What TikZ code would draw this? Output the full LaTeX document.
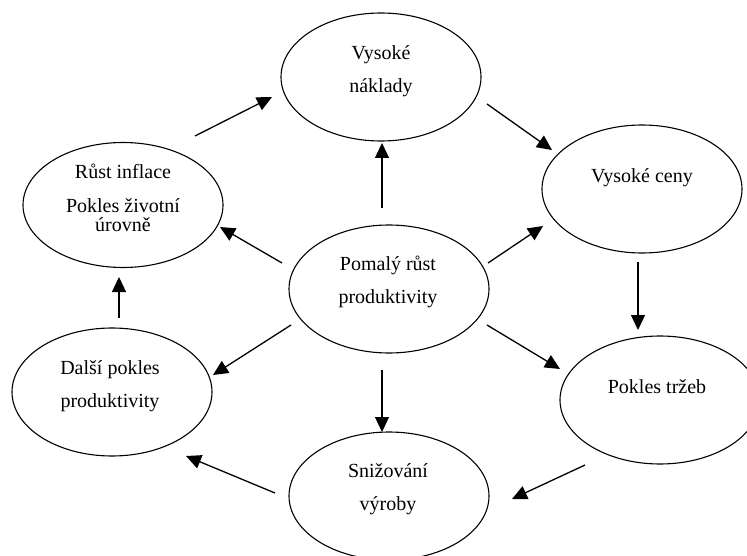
\documentclass[tikz,border=0pt]{standalone}
\usepackage{fontspec}
\setmainfont{Liberation Serif}
\usetikzlibrary{arrows.meta,shapes.geometric}
\begin{document}
\begin{tikzpicture}[x=1pt,y=-1pt,
  bubble/.style={draw, ellipse, line width=1.1pt, inner sep=0pt,
    minimum width=200pt, minimum height=128pt},
  txt/.style={align=center, inner sep=0pt, anchor=base,
    font=\fontsize{20}{33}\selectfont},
  arr/.style={line width=1.3pt, -{Triangle[length=15pt,width=14pt]}}]
\useasboundingbox[fill=white] (0,0) rectangle (747,556);

% ellipses
\node[bubble] (top) at (381,77) {};
\node[bubble] (vc)  at (642,189) {};
\node[bubble] (pt)  at (660,400) {};
\node[bubble] (sv)  at (389,496) {};
\node[bubble] (dp)  at (112,392) {};
\node[bubble, minimum height=125pt] (ri) at (123,205) {};
\node[bubble] (c)   at (389,289) {};

% labels (placed by the baseline of their last line)
\node[txt] (topt) at (381,93)  {Vysoké\\náklady};
\node[txt] (vct)  at (642,183) {Vysoké ceny};
\node[txt] (ptt)  at (657,393) {Pokles tržeb};
\node[txt] (svt)  at (388,510) {Snižování\\výroby};
\node[txt] (dpt)  at (110,407) {Další pokles\\produktivity};
\node[txt] (rit)  at (123,232) {Růst inflace\\[1pt]Pokles životní\\[-14pt]úrovně};
\node[txt] (ct)   at (388,303) {Pomalý růst\\produktivity};

% arrows from the centre
\draw[arr] ([shift={(-7,-81)}]c.center) -- ([shift={(1,66)}]top.center);
\draw[arr] ([shift={(99,-26)}]c.center) -- ([shift={(-99,37)}]vc.center);
\draw[arr] ([shift={(98,36)}]c.center) -- ([shift={(-100,-31)}]pt.center);
\draw[arr] ([shift={(-7,81)}]c.center) -- ([shift={(-7,-64)}]sv.center);
\draw[arr] ([shift={(-98,36)}]c.center) -- ([shift={(101,-17)}]dp.center);
\draw[arr] ([shift={(-107,-26)}]c.center) -- ([shift={(97,22)}]ri.center);

% outer cycle
\draw[arr] ([shift={(72,-69)}]ri.center) -- ([shift={(-109,20)}]top.center);
\draw[arr] ([shift={(106,27)}]top.center) -- ([shift={(-90,-39)}]vc.center);
\draw[arr] ([shift={(-4,73)}]vc.center) -- ([shift={(-22,-70)}]pt.center);
\draw[arr] ([shift={(-75,65)}]pt.center) -- ([shift={(123,3)}]sv.center);
\draw[arr] ([shift={(-114,-3)}]sv.center) -- ([shift={(74,64)}]dp.center);
\draw[arr] ([shift={(7,-74)}]dp.center) -- ([shift={(-4,72)}]ri.center);
\end{tikzpicture}
\end{document}
